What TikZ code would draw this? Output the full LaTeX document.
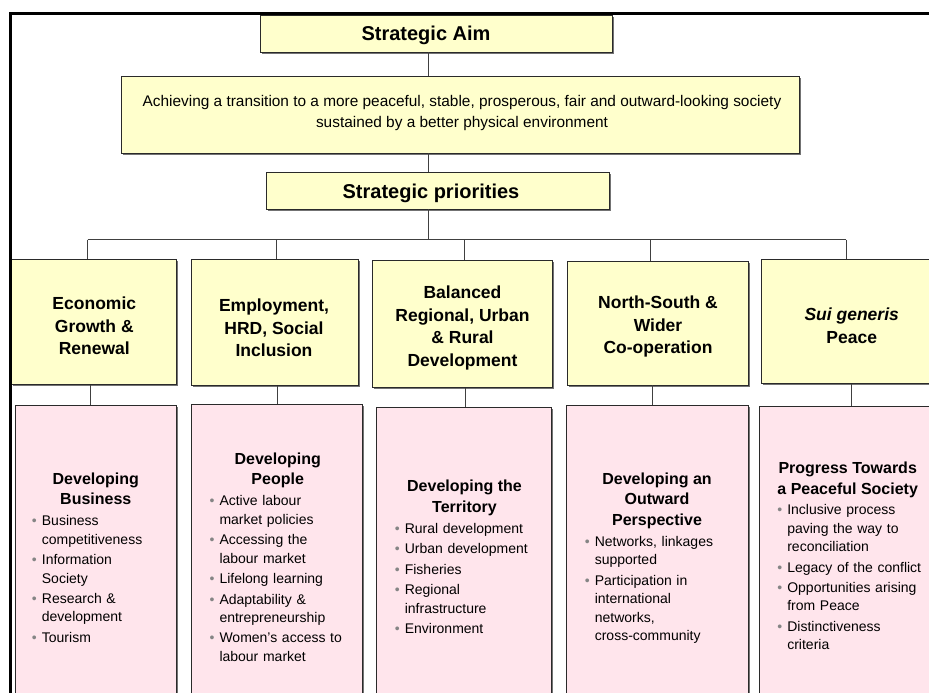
\documentclass[tikz,border=0pt]{standalone}
\usepackage{fontspec}
\setmainfont{Liberation Sans}
\usetikzlibrary{shadows}
\definecolor{ybox}{HTML}{FFFFCC}
\definecolor{pbox}{HTML}{FFE5EC}
\definecolor{bulgray}{HTML}{858585}
\definecolor{edgec}{HTML}{2A2A2A}
\newcommand\fs[2]{\fontsize{#1}{#2}\selectfont}
\newcommand\bul[1]{{\let\\\newline\hangindent=10pt\hangafter=1\noindent\makebox[10pt][l]{\textcolor{bulgray}{\fs{14}{14}\textbullet}}#1\par}\vskip2.2pt}
\begin{document}
\begin{tikzpicture}[x=1pt,y=-1pt,
  boxbase/.style={draw=edgec, line width=0.9pt, inner sep=0pt,
    drop shadow={shadow xshift=1.6pt, shadow yshift=-1.6pt, fill=black!55, opacity=1}},
  ybx/.style={boxbase, fill=ybox},
  pbx/.style={boxbase, fill=pbox},
  conn/.style={draw=black!75, line width=0.9pt},
  toptitle/.style={inner sep=0pt, font={\fs{20}{23}\bfseries}},
  ytext/.style={inner sep=0pt, align=center, font={\fs{17.5}{22.5}\bfseries}},
  ptitle/.style={inner sep=0pt, align=center, font={\fs{16}{20.5}\bfseries}},
  plist/.style={inner sep=0pt, anchor=north west, text width=175pt,
    font={\fs{14}{18.3}}, execute at begin node={\raggedright\parindent=0pt\parskip=0pt}}
]
\useasboundingbox (0,0) rectangle (929,693);
\clip (0,0) rectangle (929,693);

% top boxes
\node[ybx, minimum width=352pt, minimum height=37pt] (aim) at (436,33.5) {};
\node[ybx, minimum width=678pt, minimum height=77pt] (ach) at (460,114.5) {};
\node[ybx, minimum width=343pt, minimum height=37pt] (sp) at (437.5,190.5) {};

\node[toptitle] (taim) at (426,35) {Strategic Aim};
\node[inner sep=0pt, align=center, font={\fs{15.4}{21}}] (tach) at (462,113)
  {Achieving a transition to a more peaceful, stable, prosperous, fair and outward-looking society\\sustained by a better physical environment};
\node[toptitle] (tsp) at (431,193) {Strategic priorities};

% priority boxes
\node[ybx, minimum width=165pt, minimum height=125pt] (y1) at (93.5,321.8) {};
\node[ybx, minimum width=167pt, minimum height=126.7pt] (y2) at (275.2,322.35) {};
\node[ybx, minimum width=180pt, minimum height=127pt] (y3) at (462.3,324.2) {};
\node[ybx, minimum width=180.6pt, minimum height=124pt] (y4) at (658,323) {};
\node[ybx, minimum width=180pt, minimum height=124pt] (y5) at (851.7,321.3) {};

\node[ytext] (ty1) at (94.3,326) {Economic\\Growth \&\\Renewal};
\node[ytext] (ty2) at (274,328) {Employment,\\HRD, Social\\Inclusion};
\node[ytext] (ty3) at (462.5,328) {Balanced\\Regional, Urban\\\& Rural\\Development};
\node[ytext] (ty4) at (658,326.5) {North-South \&\\Wider\\Co-operation};
\node[ytext] (ty5) at (851.7,325.5) {\textit{Sui generis}\\Peace};

% measure boxes
\node[pbx, minimum width=161.5pt, minimum height=314.7pt] (p1) at (95.75,562.65) {};
\node[pbx, minimum width=170.9pt, minimum height=315.7pt] (p2) at (277.15,562.15) {};
\node[pbx, minimum width=174.3pt, minimum height=313pt] (p3) at (463.85,563.5) {};
\node[pbx, minimum width=182.3pt, minimum height=314.7pt] (p4) at (657.15,562.65) {};
\node[pbx, minimum width=177pt, minimum height=313.7pt] (p5) at (847.5,563.15) {};

\node[ptitle] (pt1) at (95.8,489) {Developing\\Business};
\node[ptitle] (pt2) at (277.7,470.5) {Developing\\People};
\node[ptitle] (pt3) at (464.5,497.7) {Developing the\\Territory};
\node[ptitle] (pt4) at (657,500.5) {Developing an\\Outward\\Perspective};
\node[ptitle] (pt5) at (847.7,479.7) {Progress Towards\\a Peaceful Society};

\node[plist] (pl1) at (31.7,515.6) {%
\bul{Business\\competitiveness}
\bul{Information\\Society}
\bul{Research \&\\development}
\bul{Tourism}};
\node[plist] (pl2) at (209.3,495.6) {%
\bul{Active labour\\market policies}
\bul{Accessing the\\labour market}
\bul{Lifelong learning}
\bul{Adaptability \&\\entrepreneurship}
\bul{Women's access to\\labour market}};
\node[plist] (pl3) at (394.6,522.9) {%
\bul{Rural development}
\bul{Urban development}
\bul{Fisheries}
\bul{Regional\\infrastructure}
\bul{Environment}};
\node[plist] (pl4) at (584.6,536.3) {%
\bul{Networks, linkages\\supported}
\bul{Participation in\\international\\networks,\\cross-community}};
\node[plist] (pl5) at (777.1,504.6) {%
\bul{Inclusive process\\paving the way to\\reconciliation}
\bul{Legacy of the conflict}
\bul{Opportunities arising\\from Peace}
\bul{Distinctiveness\\criteria}};

% connectors
\coordinate (trunk) at (428,0);
\coordinate (hL) at (87.7,239.5);
\coordinate (h2) at (276,239.5);
\coordinate (h3) at (464,239.5);
\coordinate (h4) at (650.7,239.5);
\coordinate (hR) at (846,239.5);
\coordinate (hT) at (428,239.5);
\coordinate (v1) at (90,0);
\coordinate (v2) at (277.3,0);
\coordinate (v3) at (465.5,0);
\coordinate (v4) at (652,0);
\coordinate (v5) at (851.7,0);

\draw[conn] (aim.south -| trunk) -- (ach.north -| trunk);
\draw[conn] (ach.south -| trunk) -- (sp.north -| trunk);
\draw[conn] (sp.south -| trunk) -- (hT);
\draw[conn] (hL) -- (hR);
\draw[conn] (hL) -- (hL |- y1.north);
\draw[conn] (h2) -- (h2 |- y2.north);
\draw[conn] (h3) -- (h3 |- y3.north);
\draw[conn] (h4) -- (h4 |- y4.north);
\draw[conn] (hR) -- (hR |- y5.north);
\draw[conn] (y1.south -| v1) -- (p1.north -| v1);
\draw[conn] (y2.south -| v2) -- (p2.north -| v2);
\draw[conn] (y3.south -| v3) -- (p3.north -| v3);
\draw[conn] (y4.south -| v4) -- (p4.north -| v4);
\draw[conn] (y5.south -| v5) -- (p5.north -| v5);

% frame
\draw[line width=3pt, black] (935,14) -- (10.3,14) -- (10.3,700);
\end{tikzpicture}
\end{document}
